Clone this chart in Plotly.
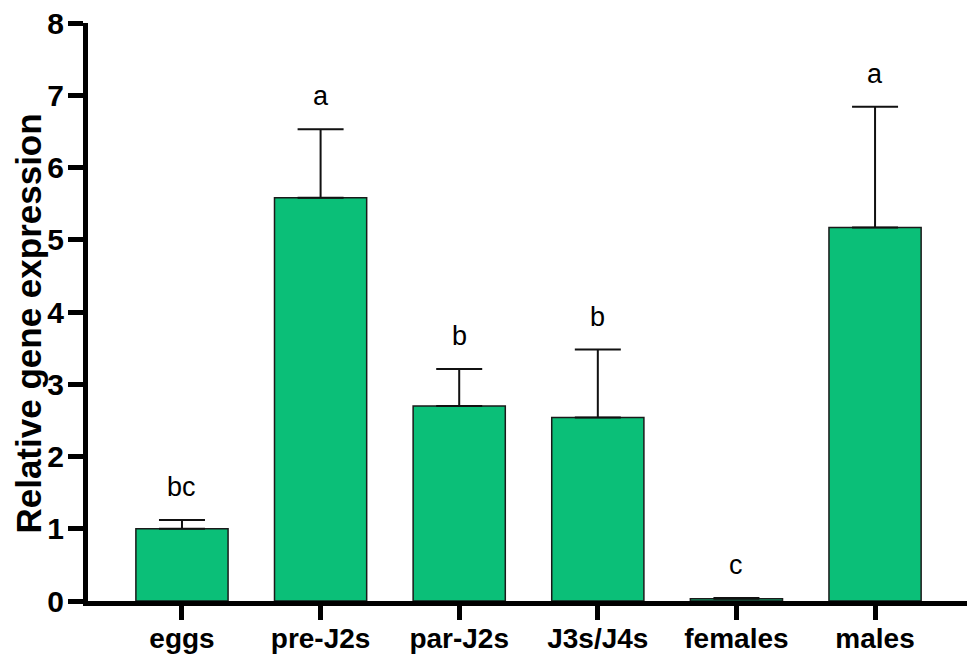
import plotly.graph_objects as go

# stages and mean relative expression (+ SD)
stages = ["eggs", "pre-J2s", "par-J2s", "J3s/J4s", "females", "males"]
expression = [1.00, 5.58, 2.70, 2.54, 0.03, 5.17]
sd = [0.12, 0.95, 0.51, 0.94, 0.01, 1.67]
letters = ["bc", "a", "b", "b", "c", "a"]

font_family = "Arial, Liberation Sans, sans-serif"

fig = go.Figure()
fig.add_trace(go.Bar(
    x=stages,
    y=expression,
    width=0.665,
    marker=dict(color="#0BBF78", line=dict(color="#1a1a1a", width=1.5)),
    error_y=dict(type="data", array=sd, symmetric=False, arrayminus=[0] * len(sd),
                 color="#111111", thickness=2, width=23),
))

# significance letters above each error bar
for stage, m, e, lab in zip(stages, expression, sd, letters):
    fig.add_annotation(x=stage, y=m + e, text=lab, showarrow=False,
                       yanchor="bottom", yshift=16,
                       font=dict(family=font_family, size=27, color="black"))

# y-axis title as a rotated annotation so it can sit close to the edge
fig.add_annotation(text="<b>Relative gene expression</b>", xref="paper", yref="paper",
                   x=0, y=0.48, xanchor="center", yanchor="middle", xshift=-59,
                   textangle=-90, showarrow=False,
                   font=dict(family=font_family, size=35, color="black"))

# page body adds an 8px offset, margins compensate for it
fig.update_layout(
    width=975, height=657,
    margin=dict(l=80, r=13, t=15, b=64),
    plot_bgcolor="white", paper_bgcolor="white",
    showlegend=False,
)
fig.update_xaxes(
    range=[-0.678, 5.685], automargin=False,
    showline=True, linecolor="black", linewidth=5,
    ticks="outside", ticklen=14, tickwidth=5, tickcolor="black",
    ticklabelstandoff=-6, ticklabeloverflow="allow",
    tickfont=dict(family=font_family, size=28, color="black", weight="bold"),
    showgrid=False, zeroline=False,
)
fig.update_yaxes(
    range=[0, 8], dtick=1, automargin=False,
    showline=True, linecolor="black", linewidth=5,
    ticks="outside", ticklen=15, tickwidth=5, tickcolor="black",
    ticklabelstandoff=-2, ticklabeloverflow="allow",
    tickfont=dict(family=font_family, size=30, color="black", weight="bold"),
    showgrid=False, zeroline=False,
)

fig.write_html("out.html")
